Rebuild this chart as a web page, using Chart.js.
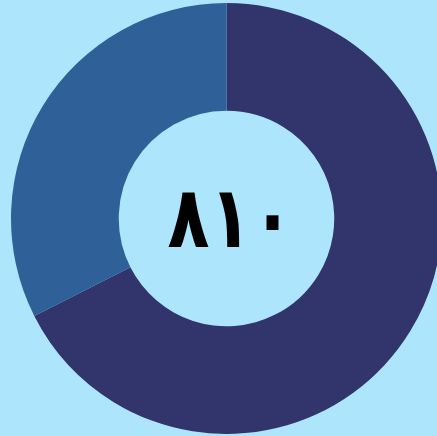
<!DOCTYPE html>
<html>
<head>
<meta charset="utf-8">
<script src="https://cdn.jsdelivr.net/npm/chart.js@4/dist/chart.umd.min.js"></script>
<style>
  html, body { margin: 0; padding: 0; width: 437px; height: 436px; overflow: hidden; background: #ADE5FC; }
  #wrap { position: absolute; left: 0; top: 3px; width: 453px; height: 431px; }
</style>
</head>
<body>
<div id="wrap"><canvas id="c"></canvas></div>
<script>
const categories = ["A", "B"];
const values = [547, 263];
const sliceColors = ["#32346C", "#2F6098"];
const centerLabel = "۸۱۰";

const centerText = {
  id: 'centerText',
  afterDraw(chart) {
    const meta = chart.getDatasetMeta(0);
    const arc = meta.data[0];
    if (!arc) return;
    const ctx = chart.ctx;
    ctx.save();
    ctx.fillStyle = '#000000';
    ctx.font = 'bold 86px "DejaVu Sans"';
    ctx.textAlign = 'center';
    ctx.textBaseline = 'middle';
    ctx.translate(arc.x + 4, arc.y + 6);
    ctx.scale(0.8, 1);
    ctx.fillText(centerLabel, 0, 0);
    ctx.restore();
  }
};

new Chart(document.getElementById('c'), {
  type: 'doughnut',
  data: {
    labels: categories,
    datasets: [{
      data: values,
      backgroundColor: sliceColors,
      borderWidth: 0
    }]
  },
  options: {
    responsive: true,
    maintainAspectRatio: false,
    animation: false,
    cutout: '50%',
    layout: { padding: 0 },
    plugins: { legend: { display: false }, tooltip: { enabled: false } }
  },
  plugins: [centerText]
});
</script>
</body>
</html>
